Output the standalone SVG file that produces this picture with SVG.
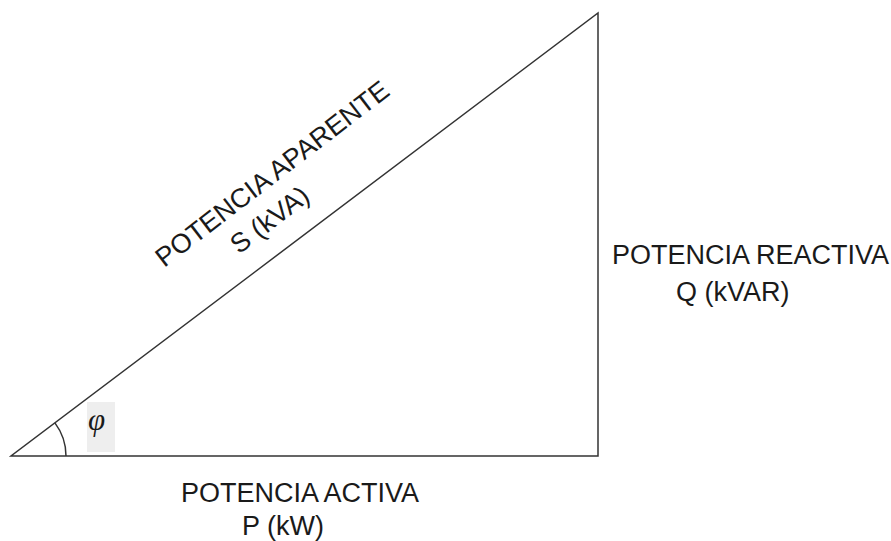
<svg xmlns="http://www.w3.org/2000/svg" width="891" height="541" viewBox="0 0 891 541">
<style>
.lbl{font-family:"Liberation Sans",Arial,sans-serif;font-size:27px;fill:#1a1a1a}
.edge{fill:none;stroke:#333;stroke-width:1.5}
</style>
<rect width="891" height="541" fill="#fff"/>
<g id="connectors">
<path class="edge" d="M11 456 L598 456 L598 13 Z"/>
<path class="edge" d="M66 456 A55 55 0 0 0 54.9 422.9" stroke-width="1.2"/>
</g>
<g id="angle">
<rect x="87" y="402" width="28" height="50" fill="#eeeeee"/>
<text x="96.5" y="430" text-anchor="middle" style="font-family:'Liberation Serif','DejaVu Serif',serif;font-style:italic;font-size:31px;fill:#1a1a1a">φ</text>
</g>
<g id="apparent">
<g transform="translate(277.7,181) rotate(-37.5)">
<text class="lbl" x="0" y="0" text-anchor="middle">POTENCIA APARENTE</text>
<text class="lbl" x="-30" y="35" text-anchor="middle">S (kVA)</text>
</g>
</g>
<g id="reactive">
<text class="lbl" x="612" y="264">POTENCIA REACTIVA</text>
<text class="lbl" x="676" y="301">Q (kVAR)</text>
</g>
<g id="active">
<text class="lbl" x="181" y="502">POTENCIA ACTIVA</text>
<text class="lbl" x="242" y="535">P (kW)</text>
</g>
</svg>
